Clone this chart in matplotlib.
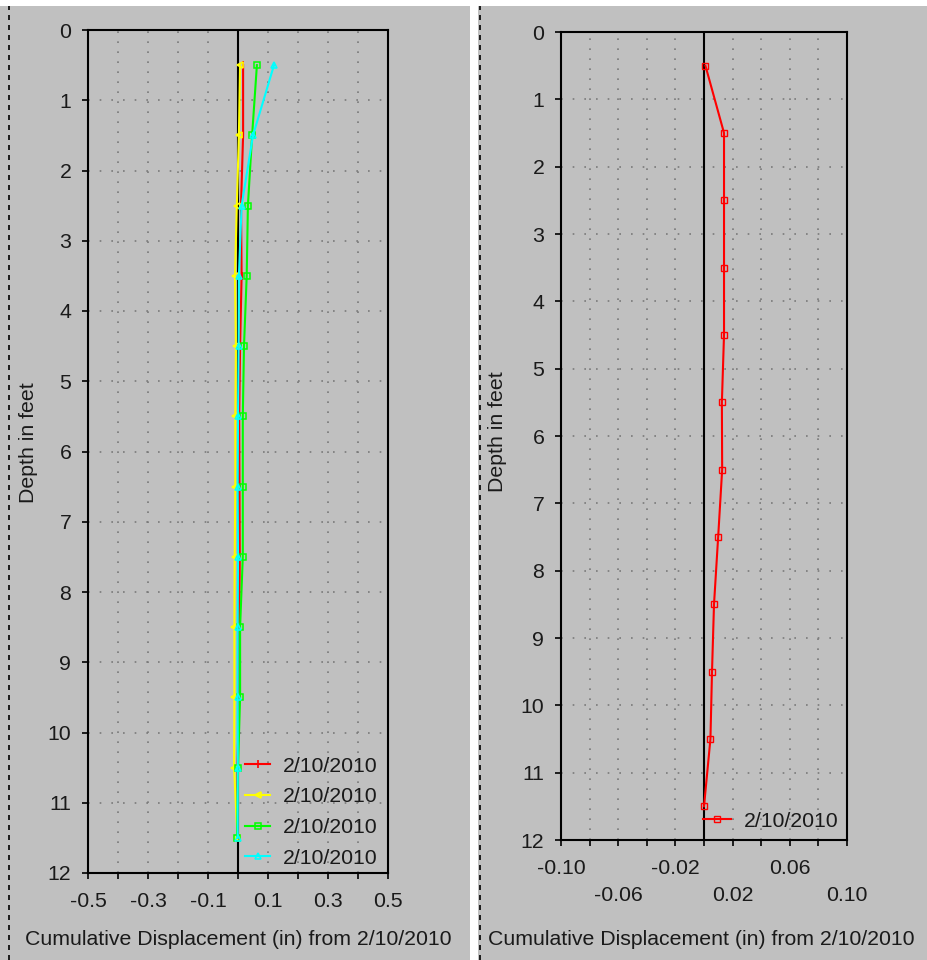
import matplotlib
matplotlib.use('Agg')
import matplotlib.pyplot as plt
from matplotlib.patches import Rectangle
from matplotlib.lines import Line2D

plt.rcParams['font.family'] = ['Liberation Sans', 'DejaVu Sans']

depths = [0.5, 1.5, 2.5, 3.5, 4.5, 5.5, 6.5, 7.5, 8.5, 9.5, 10.5, 11.5]

# left chart, four readings
left_red = [0.017, 0.017, 0.010, 0.012, 0.007, 0.004, 0.005, 0.006, 0.004, 0.004, -0.002, -0.002]
left_yellow = [0.007, 0.003, -0.004, -0.010, -0.007, -0.009, -0.009, -0.011, -0.012, -0.012, -0.013, -0.002]
left_green = [0.063, 0.047, 0.033, 0.029, 0.020, 0.016, 0.016, 0.016, 0.007, 0.007, 0.000, -0.003]
left_cyan = [0.120, 0.050, 0.012, 0.003, 0.002, 0.000, -0.001, 0.000, -0.001, -0.001, -0.001, -0.001]

# right chart, one reading
right_red = [0.001, 0.014, 0.014, 0.014, 0.014, 0.0125, 0.0127, 0.0099, 0.007, 0.0056, 0.0045, 0.000]

legend_label = '2/10/2010'
x_label = 'Cumulative Displacement (in) from 2/10/2010'
y_label = 'Depth in feet'

left_xticks = [-0.5, -0.4, -0.3, -0.2, -0.1, 0.0, 0.1, 0.2, 0.3, 0.4, 0.5]
left_xticklabels = ['-0.5', '', '-0.3', '', '-0.1', '', '0.1', '', '0.3', '', '0.5']
right_xticks = [-0.10, -0.08, -0.06, -0.04, -0.02, 0.0, 0.02, 0.04, 0.06, 0.08, 0.10]
right_xticklabels = ['-0.10', '', '-0.06', '', '-0.02', '', '0.02', '', '0.06', '', '0.10']
yticks = list(range(13))

bg = '#c0c0c0'
txt = '#1a1a1a'
fs = 15.3
W, H = 927, 960

fig = plt.figure(figsize=(W / 100, H / 100), dpi=100)
fig.patch.set_facecolor('white')

# gray panels, white strips, dashed borders
fig.patches.append(Rectangle((0, 0), 470 / W, 954 / H, transform=fig.transFigure,
                             facecolor=bg, edgecolor='none', zorder=-10))
fig.patches.append(Rectangle((478 / W, 0), 449 / W, 954 / H, transform=fig.transFigure,
                             facecolor=bg, edgecolor='none', zorder=-10))
for xp in [9, 480]:
    fig.lines.append(Line2D([xp / W, xp / W], [0, 954 / H], transform=fig.transFigure,
                            color='black', lw=1.2, linestyle=(0, (3, 3)), zorder=-5))


def setup(ax, xlim, xticks, xticklabels):
    ax.set_facecolor(bg)
    ax.set_xlim(xlim)
    ax.set_ylim(12, 0)
    ax.set_yticks(yticks)
    ax.set_xticks(xticks)
    ax.set_xticklabels(xticklabels)
    ax.tick_params(direction='out', length=4, width=1.2, color='black',
                   labelsize=fs, labelcolor=txt, pad=8)
    for s in ax.spines.values():
        s.set_linewidth(1.5)
        s.set_color('black')
    for xt in xticks:
        if abs(xt) > 1e-9:
            ax.axvline(xt, color='#7a7a7a', lw=1.2, linestyle=(0, (1, 5)), zorder=1)
    for yt in yticks[1:-1]:
        ax.axhline(yt, color='#7a7a7a', lw=1.2, linestyle=(0, (1, 6)), zorder=1)
    ax.axvline(0, color='black', lw=1.5, zorder=2)


ax1 = fig.add_axes([88 / W, 1 - 873 / H, 300 / W, 843 / H])
setup(ax1, (-0.5, 0.5), left_xticks, left_xticklabels)
ax1.plot(left_red, depths, color='#ff0000', lw=1.5, marker='|', ms=6, mew=1.2, label=legend_label, zorder=3)
ax1.plot(left_yellow, depths, color='#ffff00', lw=1.5, marker='<', ms=5, mfc='none', mew=1.2, label=legend_label, zorder=3)
ax1.plot(left_green, depths, color='#00ff00', lw=1.5, marker='s', ms=4, mfc='none', mew=1.1, label=legend_label, zorder=3)
ax1.plot(left_cyan, depths, color='#00ffff', lw=1.5, marker='^', ms=4, mfc='none', mew=1.1, label=legend_label, zorder=3)
ax1.tick_params(axis='x', pad=9.5)
ax1.set_xlabel(x_label, fontsize=fs, color=txt)
ax1.xaxis.set_label_coords(0.5, -0.068)
ax1.set_ylabel(y_label, fontsize=fs, color=txt)
ax1.yaxis.set_label_coords(-0.166, 0.51)
ax1.legend(loc='upper left', bbox_to_anchor=(0.523, 0.138), frameon=False, fontsize=fs,
           handlelength=1.2, handletextpad=0.6, labelspacing=0.55, borderpad=0,
           borderaxespad=0, labelcolor=txt)

ax2 = fig.add_axes([561 / W, 1 - 840 / H, 286 / W, 808 / H])
setup(ax2, (-0.1, 0.1), right_xticks, right_xticklabels)
ax2.plot(right_red, depths, color='#ff0000', lw=1.5, marker='s', ms=4.5, mfc='none', mew=1.0,
         label=legend_label, zorder=3)
for i, tick in enumerate(ax2.xaxis.get_major_ticks()):
    tick.set_pad(9.5 if (i // 2) % 2 == 0 else 29)
ax2.set_xlabel(x_label, fontsize=fs, color=txt)
ax2.xaxis.set_label_coords(0.491, -0.111)
ax2.set_ylabel(y_label, fontsize=fs, color=txt)
ax2.yaxis.set_label_coords(-0.189, 0.505)
ax2.legend(loc='upper left', bbox_to_anchor=(0.497, 0.035), frameon=False, fontsize=fs,
           handlelength=1.3, handletextpad=0.6, borderpad=0, borderaxespad=0, labelcolor=txt)

fig.savefig('out.png', dpi=100, facecolor=fig.get_facecolor())
